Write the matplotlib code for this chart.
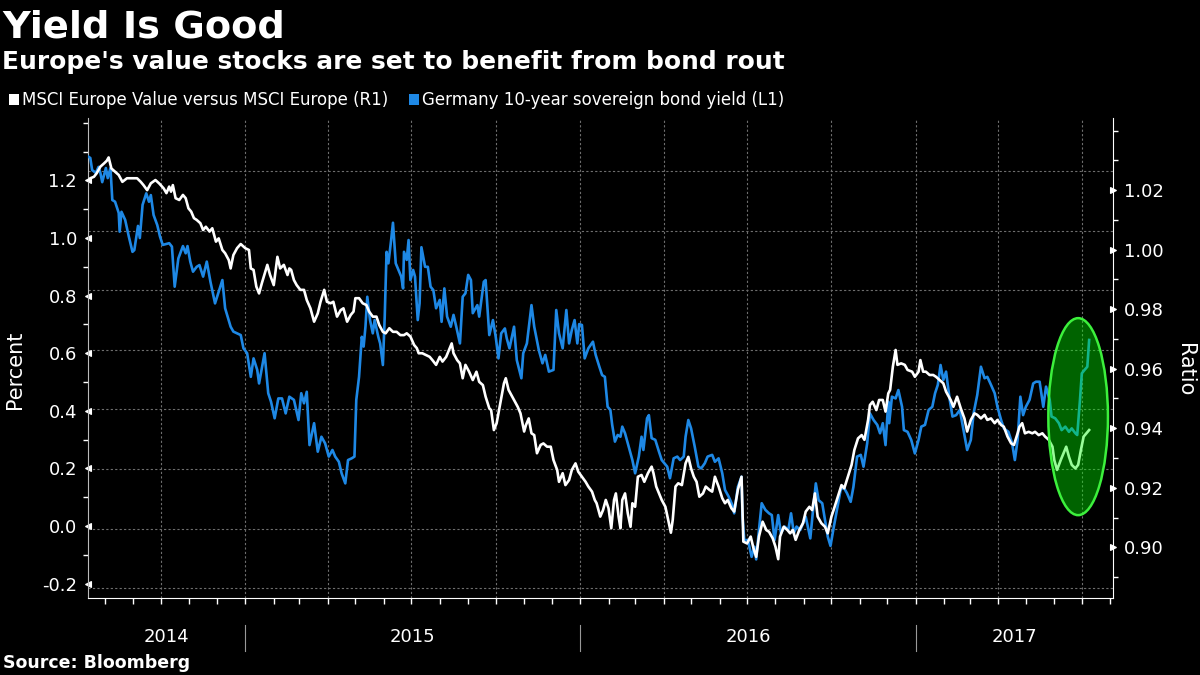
import numpy as np
import pandas as pd
import matplotlib
matplotlib.use("Agg")
import matplotlib.pyplot as plt
import matplotlib.dates as mdates
from matplotlib.ticker import FormatStrFormatter, AutoMinorLocator, NullFormatter
from matplotlib.patches import Ellipse, Rectangle
from matplotlib.lines import Line2D
import matplotlib.transforms as mtransforms

# --- data ---
start_date = "2014-07-14"

# Germany 10-year bond yield, percent (left axis); days after start_date
bund_days = [
    0, 2, 4, 8, 11, 13, 15, 19, 21, 24,
    26, 29, 33, 34, 36, 40, 44, 48, 50, 54,
    56, 59, 63, 66, 68, 71, 75, 78, 81, 88,
    91, 94, 98, 103, 106, 108, 111, 114, 118, 121,
    125, 129, 133, 138, 146, 149, 155, 158, 166, 169,
    173, 177, 180, 184, 186, 189, 192, 196, 199, 203,
    207, 211, 215, 219, 224, 229, 232, 235, 238, 241,
    246, 250, 254, 258, 262, 266, 269, 273, 276, 280,
    283, 287, 290, 292, 295, 298, 300, 302, 304, 307,
    310, 312, 316, 318, 321, 323, 325, 327, 330, 332,
    335, 338, 341, 343, 344, 347, 349, 351, 354, 356,
    359, 361, 363, 367, 370, 373, 376, 379, 383, 385,
    388, 391, 395, 398, 401, 405, 408, 411, 414, 417,
    419, 424, 426, 431, 433, 435, 437, 441, 444, 447,
    450, 454, 456, 459, 464, 467, 472, 474, 478, 483,
    486, 491, 495, 498, 502, 507, 510, 513, 517, 521,
    524, 527, 530, 533, 535, 538, 541, 545, 550, 553,
    557, 560, 563, 566, 569, 571, 574, 577, 580, 582,
    585, 589, 593, 596, 600, 603, 605, 609, 611, 614,
    618, 622, 625, 631, 634, 638, 642, 645, 649, 651,
    654, 657, 661, 665, 668, 672, 675, 680, 683, 687,
    691, 694, 698, 702, 704, 708, 712, 713, 715, 719,
    723, 726, 728, 731, 734, 738, 742, 745, 748, 752,
    755, 759, 763, 766, 769, 772, 776, 779, 782, 787,
    790, 793, 796, 800, 803, 806, 809, 812, 816, 820,
    823, 827, 831, 834, 838, 842, 845, 849, 852, 856,
    860, 863, 866, 869, 872, 873, 876, 880, 883, 887,
    889, 893, 897, 901, 905, 908, 912, 916, 920, 923,
    926, 929, 932, 935, 939, 942, 946, 950, 954, 958,
    962, 965, 969, 973, 977, 980, 984, 988, 991, 995,
    998, 1003, 1007, 1010, 1013, 1016, 1019, 1022, 1026, 1030,
    1033, 1037, 1041, 1044, 1048, 1050, 1054, 1058, 1061, 1065,
    1069, 1072, 1076, 1078, 1081, 1083, 1086, 1089, 1091,
]
bund_yield = [
    1.282, 1.278, 1.236, 1.226, 1.247, 1.226, 1.194, 1.243, 1.208, 1.243,
    1.132, 1.126, 1.087, 1.022, 1.091, 1.063, 1.005, 0.952, 0.958, 1.042,
    1.000, 1.115, 1.155, 1.126, 1.149, 1.080, 1.045, 1.005, 0.976, 0.982,
    0.970, 0.831, 0.929, 0.972, 0.947, 0.972, 0.918, 0.883, 0.900, 0.906,
    0.866, 0.918, 0.848, 0.773, 0.854, 0.756, 0.692, 0.675, 0.663, 0.617,
    0.600, 0.518, 0.582, 0.542, 0.495, 0.548, 0.600, 0.461, 0.432, 0.374,
    0.443, 0.443, 0.391, 0.449, 0.438, 0.368, 0.461, 0.426, 0.466, 0.281,
    0.357, 0.258, 0.310, 0.287, 0.241, 0.264, 0.241, 0.223, 0.183, 0.148,
    0.229, 0.235, 0.241, 0.438, 0.518, 0.657, 0.623, 0.692, 0.796, 0.715,
    0.669, 0.715, 0.657, 0.634, 0.559, 0.727, 0.952, 0.912, 0.993, 1.053,
    0.912, 0.889, 0.866, 0.825, 0.952, 0.924, 0.993, 0.854, 0.889, 0.866,
    0.715, 0.773, 0.968, 0.900, 0.900, 0.831, 0.819, 0.756, 0.785, 0.709,
    0.825, 0.727, 0.692, 0.733, 0.692, 0.634, 0.796, 0.808, 0.872, 0.854,
    0.739, 0.767, 0.727, 0.848, 0.854, 0.756, 0.663, 0.715, 0.657, 0.582,
    0.669, 0.686, 0.652, 0.617, 0.692, 0.576, 0.513, 0.600, 0.634, 0.767,
    0.692, 0.611, 0.565, 0.594, 0.536, 0.542, 0.750, 0.669, 0.617, 0.750,
    0.634, 0.681, 0.715, 0.634, 0.701, 0.698, 0.582, 0.617, 0.640, 0.594,
    0.553, 0.524, 0.518, 0.414, 0.403, 0.351, 0.293, 0.316, 0.310, 0.345,
    0.322, 0.275, 0.229, 0.183, 0.241, 0.310, 0.264, 0.374, 0.385, 0.305,
    0.299, 0.258, 0.229, 0.206, 0.166, 0.235, 0.241, 0.229, 0.241, 0.310,
    0.368, 0.339, 0.275, 0.206, 0.200, 0.218, 0.241, 0.247, 0.223, 0.235,
    0.183, 0.125, 0.102, 0.073, 0.044, 0.136, 0.171, 0.038, -0.049, -0.049,
    -0.107, -0.072, -0.116, -0.014, 0.079, 0.056, 0.044, 0.038, -0.049, 0.038,
    -0.025, -0.002, -0.014, 0.044, -0.025, -0.002, -0.014, 0.009, 0.032, -0.043,
    0.056, 0.148, 0.090, 0.079, 0.021, -0.037, -0.069, -0.014, 0.056, 0.125,
    0.136, 0.114, 0.084, 0.136, 0.241, 0.247, 0.206, 0.287, 0.391, 0.368,
    0.351, 0.322, 0.357, 0.281, 0.432, 0.357, 0.449, 0.443, 0.472, 0.414,
    0.333, 0.327, 0.299, 0.252, 0.299, 0.345, 0.351, 0.403, 0.414, 0.461,
    0.490, 0.559, 0.507, 0.536, 0.438, 0.380, 0.385, 0.403, 0.333, 0.264,
    0.299, 0.391, 0.455, 0.553, 0.513, 0.518, 0.490, 0.461, 0.414, 0.368,
    0.339, 0.327, 0.287, 0.229, 0.299, 0.449, 0.385, 0.414, 0.438, 0.495,
    0.501, 0.501, 0.414, 0.484, 0.438, 0.380, 0.374, 0.357, 0.333, 0.345,
    0.327, 0.339, 0.322, 0.316, 0.438, 0.530, 0.542, 0.553, 0.646,
]

# MSCI Europe Value / MSCI Europe ratio (right axis); days after start_date
ratio_days = [
    0, 2, 6, 9, 13, 17, 20, 22, 25, 29,
    33, 37, 42, 48, 53, 57, 60, 64, 68, 73,
    77, 82, 85, 88, 90, 92, 95, 99, 103, 106,
    109, 112, 115, 118, 122, 125, 128, 132, 135, 139,
    142, 146, 149, 153, 155, 158, 162, 166, 171, 175,
    177, 180, 183, 186, 189, 195, 198, 202, 206, 209,
    213, 217, 219, 221, 224, 227, 231, 235, 238, 242,
    246, 250, 253, 257, 260, 264, 267, 271, 275, 278,
    282, 286, 289, 291, 295, 299, 303, 306, 310, 314,
    317, 321, 324, 328, 332, 336, 340, 344, 347, 351,
    355, 358, 360, 364, 368, 372, 375, 379, 383, 386,
    390, 393, 396, 398, 402, 405, 408, 411, 415, 419,
    423, 426, 430, 433, 437, 439, 442, 445, 449, 453,
    455, 458, 462, 465, 468, 471, 475, 477, 480, 483,
    486, 489, 493, 496, 500, 504, 507, 511, 513, 517,
    520, 524, 527, 531, 534, 538, 542, 545, 549, 552,
    554, 558, 561, 564, 567, 570, 573, 575, 578, 580,
    582, 585, 588, 591, 593, 596, 599, 603, 606, 610,
    614, 616, 619, 622, 625, 629, 632, 635, 637, 640,
    643, 647, 651, 654, 657, 660, 663, 666, 670, 673,
    677, 680, 683, 687, 691, 694, 697, 701, 704, 708,
    712, 714, 718, 722, 725, 728, 731, 735, 739, 742,
    746, 749, 752, 754, 758, 762, 765, 768, 771, 775,
    779, 782, 786, 789, 792, 795, 799, 803, 806, 810,
    813, 817, 821, 824, 828, 832, 835, 839, 843, 846,
    850, 852, 855, 859, 862, 866, 869, 872, 874, 877,
    880, 882, 886, 890, 893, 898, 901, 905, 907, 910,
    913, 917, 921, 924, 928, 932, 935, 940, 943, 947,
    951, 955, 958, 962, 966, 969, 973, 977, 980, 984,
    988, 991, 995, 998, 1002, 1006, 1009, 1013, 1015, 1018,
    1021, 1025, 1029, 1032, 1036, 1040, 1043, 1047, 1051, 1053,
    1056, 1060, 1063, 1066, 1069, 1072, 1076, 1079, 1082, 1085,
    1088, 1091,
]
value_ratio = [
    1.0234, 1.0240, 1.0245, 1.0257, 1.0279, 1.0290, 1.0299, 1.0310, 1.0273, 1.0262,
    1.0251, 1.0228, 1.0240, 1.0240, 1.0240, 1.0228, 1.0217, 1.0200, 1.0223, 1.0234,
    1.0223, 1.0206, 1.0190, 1.0212, 1.0195, 1.0217, 1.0173, 1.0167, 1.0184, 1.0173,
    1.0139, 1.0128, 1.0106, 1.0100, 1.0089, 1.0066, 1.0077, 1.0061, 1.0072, 1.0027,
    1.0038, 0.9999, 0.9988, 0.9965, 0.9937, 0.9982, 1.0005, 1.0019, 1.0005, 0.9999,
    0.9937, 0.9932, 0.9876, 0.9853, 0.9887, 0.9949, 0.9915, 0.9881, 0.9976, 0.9937,
    0.9949, 0.9915, 0.9937, 0.9932, 0.9898, 0.9881, 0.9865, 0.9865, 0.9831, 0.9803,
    0.9758, 0.9786, 0.9825, 0.9865, 0.9825, 0.9820, 0.9825, 0.9775, 0.9797, 0.9803,
    0.9758, 0.9781, 0.9792, 0.9837, 0.9837, 0.9820, 0.9814, 0.9792, 0.9775, 0.9775,
    0.9747, 0.9724, 0.9719, 0.9736, 0.9724, 0.9724, 0.9713, 0.9713, 0.9719, 0.9708,
    0.9680, 0.9669, 0.9652, 0.9652, 0.9646, 0.9640, 0.9629, 0.9613, 0.9640, 0.9624,
    0.9640, 0.9663, 0.9685, 0.9652, 0.9629, 0.9618, 0.9568, 0.9613, 0.9590, 0.9562,
    0.9590, 0.9556, 0.9545, 0.9506, 0.9467, 0.9461, 0.9394, 0.9417, 0.9484, 0.9551,
    0.9568, 0.9529, 0.9506, 0.9489, 0.9472, 0.9450, 0.9389, 0.9411, 0.9433, 0.9383,
    0.9377, 0.9316, 0.9344, 0.9349, 0.9338, 0.9338, 0.9293, 0.9260, 0.9220, 0.9249,
    0.9209, 0.9226, 0.9260, 0.9282, 0.9254, 0.9237, 0.9220, 0.9204, 0.9187, 0.9159,
    0.9148, 0.9103, 0.9125, 0.9159, 0.9131, 0.9064, 0.9159, 0.9181, 0.9103, 0.9064,
    0.9159, 0.9181, 0.9114, 0.9069, 0.9148, 0.9136, 0.9237, 0.9243, 0.9220, 0.9249,
    0.9271, 0.9249, 0.9204, 0.9181, 0.9159, 0.9136, 0.9092, 0.9049, 0.9092, 0.9204,
    0.9215, 0.9209, 0.9282, 0.9304, 0.9265, 0.9237, 0.9220, 0.9170, 0.9181, 0.9204,
    0.9193, 0.9187, 0.9237, 0.9204, 0.9165, 0.9148, 0.9159, 0.9131, 0.9120, 0.9193,
    0.9237, 0.9019, 0.9013, 0.9036, 0.8997, 0.8968, 0.9036, 0.9086, 0.9058, 0.9052,
    0.9030, 0.9002, 0.8960, 0.9036, 0.9069, 0.9058, 0.9047, 0.9058, 0.9025, 0.9058,
    0.9081, 0.9120, 0.9136, 0.9125, 0.9181, 0.9103, 0.9081, 0.9069, 0.9047, 0.9103,
    0.9131, 0.9170, 0.9209, 0.9198, 0.9237, 0.9277, 0.9327, 0.9366, 0.9377, 0.9361,
    0.9428, 0.9478, 0.9489, 0.9461, 0.9495, 0.9495, 0.9456, 0.9517, 0.9529, 0.9607,
    0.9663, 0.9613, 0.9618, 0.9613, 0.9596, 0.9590, 0.9573, 0.9590, 0.9629, 0.9590,
    0.9590, 0.9579, 0.9579, 0.9573, 0.9562, 0.9551, 0.9523, 0.9495, 0.9472, 0.9506,
    0.9467, 0.9433, 0.9389, 0.9428, 0.9450, 0.9445, 0.9433, 0.9445, 0.9428, 0.9433,
    0.9417, 0.9428, 0.9411, 0.9405, 0.9372, 0.9349, 0.9344, 0.9383, 0.9405, 0.9417,
    0.9383, 0.9388, 0.9383, 0.9388, 0.9377, 0.9383, 0.9372, 0.9361, 0.9338, 0.9293,
    0.9260, 0.9293, 0.9316, 0.9338, 0.9304, 0.9277, 0.9265, 0.9277, 0.9327, 0.9372,
    0.9383, 0.9394,
]

left_ticks = [-0.2, 0.0, 0.2, 0.4, 0.6, 0.8, 1.0, 1.2]
right_ticks = [0.90, 0.92, 0.94, 0.96, 0.98, 1.00, 1.02]
years = [2014, 2015, 2016, 2017]

# highlight ellipse around the latest move (centre day, width days, centre ratio, height ratio)
hl_day, hl_width, hl_ratio, hl_height = 1079, 65, 0.9439, 0.0662

# --- figure ---
BLUE = "#1e88e5"
GRID = "#6e6e6e"

fig = plt.figure(figsize=(12, 6.75), dpi=100, facecolor="black")
W, H = 1200, 675
ax = fig.add_axes([88 / W, 1 - 598 / H, (1113 - 88) / W, (598 - 118) / H])
ax.set_facecolor("black")
ax2 = ax.twinx()

t0 = pd.Timestamp(start_date)
bund_dates = t0 + pd.to_timedelta(bund_days, unit="D")
ratio_dates = t0 + pd.to_timedelta(ratio_days, unit="D")

ax.plot(bund_dates, bund_yield, color=BLUE, lw=1.9, zorder=3)
ax2.plot(ratio_dates, value_ratio, color="white", lw=1.9, zorder=3)

x0 = t0 - pd.Timedelta(days=0.5)
x1 = t0 + pd.Timedelta(days=1117)
ax.set_xlim(x0, x1)
ax.set_ylim(-0.25, 1.4167)
ax2.set_ylim(0.88296, 1.04425)

# gridlines: horizontal ones sit at a fixed offset from the ratio ticks
l0, l1 = ax.get_ylim()
r0, r1 = ax2.get_ylim()
for r in np.arange(0.8863, 1.04, 0.02):
    ax.axhline(l0 + (r - r0) * (l1 - l0) / (r1 - r0), color=GRID, lw=0.8,
               ls=(0, (2, 2)), zorder=1)

ax.xaxis.set_major_locator(mdates.MonthLocator(bymonth=(1, 4, 7, 10)))
ax.xaxis.set_minor_locator(mdates.MonthLocator())
ax.xaxis.set_major_formatter(NullFormatter())
ax.grid(axis="x", which="major", color=GRID, lw=0.8, ls=(0, (2, 2)), zorder=1)
ax.tick_params(axis="x", which="both", colors="white", length=4.5, width=1)

# left axis
ax.set_yticks(left_ticks)
ax.yaxis.set_major_formatter(FormatStrFormatter("%.1f"))
ax.yaxis.set_minor_locator(AutoMinorLocator(2))
ax.tick_params(axis="y", which="major", colors="white", labelsize=13, length=5, pad=3)
ax.tick_params(axis="y", which="minor", colors="white", length=3.5, width=1)
for t in ax.yaxis.get_major_ticks():
    t.tick1line.set_marker("<")
    t.tick1line.set_markersize(5)

# right axis
ax2.set_yticks(right_ticks)
ax2.yaxis.set_major_formatter(FormatStrFormatter("%.2f"))
ax2.yaxis.set_minor_locator(AutoMinorLocator(2))
ax2.tick_params(axis="y", which="major", colors="white", labelsize=13, length=5, pad=3)
ax2.tick_params(axis="y", which="minor", colors="white", length=3.5, width=1)
for t in ax2.yaxis.get_major_ticks():
    t.tick2line.set_marker(">")
    t.tick2line.set_markersize(5)

for s in ["top", "right"]:
    ax.spines[s].set_visible(False)
for s in ["top", "left", "bottom"]:
    ax2.spines[s].set_visible(False)
ax.spines["left"].set_color("#bbbbbb")
ax.spines["bottom"].set_color("white")
ax2.spines["right"].set_color("white")

# highlight
ell = Ellipse((mdates.date2num(t0 + pd.Timedelta(days=hl_day)), hl_ratio),
              width=hl_width, height=hl_height,
              facecolor=(0.0, 0.98, 0.0, 0.4), edgecolor="#3cf03c", lw=1.8, zorder=5)
ax2.add_patch(ell)

# year labels and separators below the axis
trans = mtransforms.blended_transform_factory(ax.transData, ax.transAxes)
edges = [x0] + [pd.Timestamp(f"{y + 1}-01-01") for y in years[:-1]] + [x1]
for i, y in enumerate(years):
    a, b = mdates.date2num(edges[i]), mdates.date2num(edges[i + 1])
    ax.text((a + b) / 2, -0.081, str(y), transform=trans, color="white",
            fontsize=13, ha="center", va="center")
for e in edges[1:-1]:
    xe = mdates.date2num(e)
    ax.add_line(Line2D([xe, xe], [-0.056, -0.111], transform=trans, color="#999999",
                       lw=0.8, clip_on=False))

# titles, legend, labels
fig.text(2 / W, 1 - 38 / H, "Yield Is Good", color="white", fontsize=27.5,
         fontweight="bold", va="baseline")
fig.text(2 / W, 1 - 69 / H, "Europe's value stocks are set to benefit from bond rout",
         color="white", fontsize=17.9, fontweight="bold", va="baseline")

fig.patches.append(Rectangle((9 / W, 1 - 105 / H), 10 / W, 11 / H, transform=fig.transFigure,
                             facecolor="white", edgecolor="none"))
fig.text(22 / W, 1 - 100 / H, "MSCI Europe Value versus MSCI Europe (R1)", color="white",
         fontsize=12, va="center")
fig.patches.append(Rectangle((409 / W, 1 - 105 / H), 10 / W, 11 / H, transform=fig.transFigure,
                             facecolor=BLUE, edgecolor="none"))
fig.text(422 / W, 1 - 100 / H, "Germany 10-year sovereign bond yield (L1)", color="white",
         fontsize=12, va="center")

fig.text(15 / W, 1 - 370 / H, "Percent", color="white", fontsize=15, rotation=90,
         ha="center", va="center")
fig.text(1185 / W, 1 - 370 / H, "Ratio", color="white", fontsize=15, rotation=270,
         ha="center", va="center")
fig.text(3 / W, 1 - 663 / H, "Source: Bloomberg", color="white", fontsize=12.5,
         fontweight="bold", va="center")

fig.savefig("out.png", dpi=100, facecolor="black")
